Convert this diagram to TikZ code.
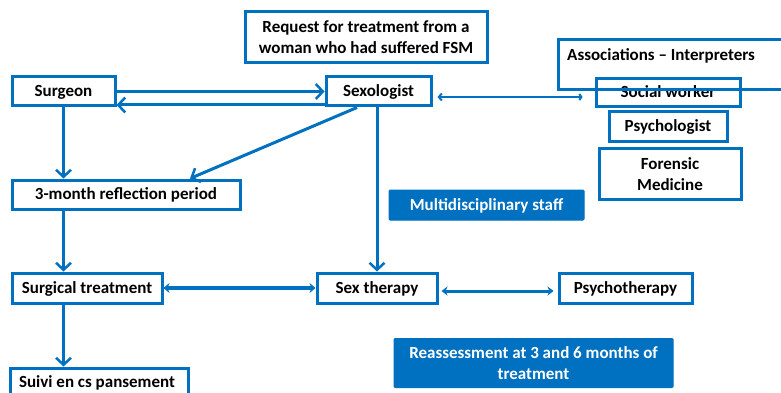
\documentclass[tikz,border=0pt]{standalone}
\usepackage{fontspec}
\setmainfont{Carlito}
\usetikzlibrary{arrows.meta}
\definecolor{bl}{HTML}{0070C0}
\begin{document}
\begin{tikzpicture}[x=1pt,y=-1pt,
  txt/.style={font=\bfseries\fontsize{17}{21}\selectfont, text=black, align=center},
  one/.style={text height=11pt, text depth=0.5pt},
  box/.style={txt, draw=bl, line width=3pt, inner sep=0pt, fill=white},
  ebox/.style={draw=bl, line width=3pt, inner sep=0pt},
  fbox/.style={font=\bfseries\fontsize{17}{21}\selectfont, text=white, align=center, fill=bl, draw=bl, line width=1pt, inner sep=0pt, rounded corners=1pt},
  arr/.style={draw=bl, line width=3pt, -{Straight Barb[length=7pt,width=15pt,line width=2.5pt]}},
  thinarr/.style={draw=bl, line width=2pt, {Straight Barb[length=3pt,width=7pt]}-{Straight Barb[length=2pt,width=6pt]}},
  dbl/.style={draw=bl, line width=4.5pt, {Stealth[length=6pt,width=10pt]}-{Stealth[length=6pt,width=10pt]}},
  dbl2/.style={draw=bl, line width=3pt, {Stealth[length=6pt,width=9pt]}-{Stealth[length=6pt,width=9pt]}}]
\useasboundingbox (0,0) rectangle (781,393);
\clip (0,0) rectangle (781,393);

\node[box, minimum width=242pt, minimum height=51pt] (req) at (366,37) {Request for treatment from a\\woman who had suffered FSM};
\node[box, one, minimum width=103pt, minimum height=29pt] (surgeon) at (63.5,91.5) {Surgeon};
\node[box, one, minimum width=105pt, minimum height=29pt] (sexo) at (378.5,91.5) {Sexologist};

\node[box, one, minimum width=144pt, minimum height=28pt] (social) at (668,92.5) {Social worker};
\node[ebox, minimum width=242pt, minimum height=50pt] (assoc) at (679,65) {};
\node[txt, anchor=west, inner sep=0pt] (assoctxt) at (567,56) {Associations – Interpreters};
\node[box, one, minimum width=118pt, minimum height=29pt] (psych) at (668,126.5) {Psychologist};
\node[box, minimum width=142pt, minimum height=51pt] (foren) at (670,174) {Forensic\\Medicine};

\node[box, one, minimum width=228pt, minimum height=29pt] (refl) at (126,194.5) {3-month reflection period};
\node[fbox, one, minimum width=195pt, minimum height=30pt] (multi) at (486.5,205) {Multidisciplinary staff};

\node[box, one, minimum width=150pt, minimum height=30pt] (surg) at (87,288) {Surgical treatment};
\node[box, one, minimum width=120pt, minimum height=30pt] (sext) at (377,288) {Sex therapy};
\node[box, one, minimum width=133pt, minimum height=30pt] (psyt) at (625.5,288) {Psychotherapy};

\node[fbox, minimum width=279pt, minimum height=49pt] (reass) at (533.5,363) {Reassessment at 3 and 6 months of\\treatment};
\node[box, minimum width=178pt, minimum height=32pt] (suivi) at (99,384) {};
\node[txt, inner sep=0pt] (suivitxt) at (97,383) {Suivi en cs pansement};

\draw[arr] (surgeon.east) -- (sexo.west);
\draw[arr] (sexo.west |- 0,105) -- (surgeon.east |- 0,105);
\draw[thinarr, shorten <=5pt, shorten >=12pt] (sexo.east |- 0,97) -- (social.west |- 0,97);
\draw[arr] (surgeon.south) -- (surgeon.south |- refl.north);
\draw[arr] ([xshift=-21.5pt]sexo.south) -- ([xshift=64pt]refl.north);
\draw[arr] (sexo.south -| sext.north) -- (sext.north);
\draw[arr] (refl.south -| surgeon.south) -- (surg.north -| surgeon.south);
\draw[dbl] (surg.east) -- (sext.west);
\draw[dbl2, shorten <=3pt, shorten >=4pt] (sext.east |- 0,291) -- (psyt.west |- 0,291);
\draw[arr] (surg.south -| surgeon.south) -- (suivi.north -| surgeon.south);
\end{tikzpicture}
\end{document}
